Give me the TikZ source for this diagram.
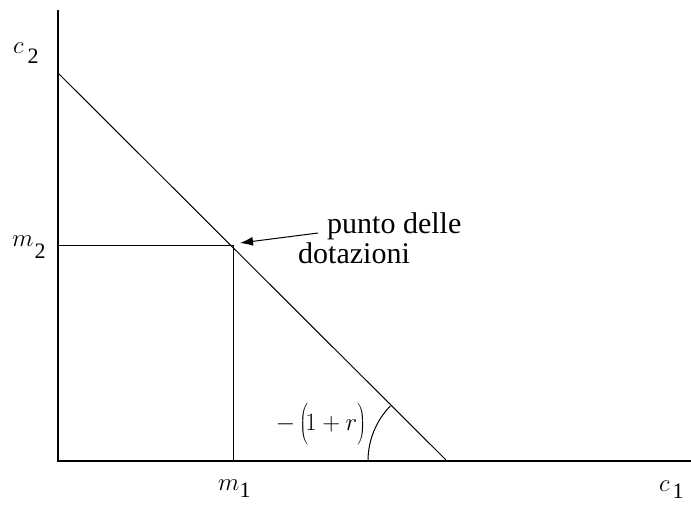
\documentclass[tikz,border=0pt]{standalone}
\usepackage{fontspec}
\setmainfont{Liberation Serif}
\usetikzlibrary{arrows.meta}
\newcommand{\lowdigit}[2]{\raisebox{-#1}{\fontsize{22}{22}\selectfont #2}}
\tikzset{
  axis/.style={line width=1.2pt},
  thin line/.style={line width=1pt},
  lbl/.style={font=\fontsize{24}{26}\selectfont, inner sep=0pt, anchor=base west},
  txt/.style={font=\fontsize{30}{31}\selectfont, inner sep=0pt, anchor=base west}
}
\begin{document}
\begin{tikzpicture}[x=1pt,y=-1pt]
\useasboundingbox (0,0) rectangle (691,506);
\coordinate (O) at (58,461);
\coordinate (Ytop) at (58,10);
\coordinate (Xend) at (691,461);
\coordinate (A) at (58,73);
\coordinate (B) at (447,461);
\coordinate (E) at (233,245);
\coordinate (M2) at (58,245);
\coordinate (M1) at (233,461);
\coordinate (ArcStart) at (368,461);
\draw[axis] (Ytop) -- (O) -- (Xend);
\draw[thin line] (A) -- (B);
\draw[thin line] (M2) -- (E) -- (M1);
\node[txt] (pd1) at (327,233) {punto delle};
\node[txt] (pd2) at (298,263) {dotazioni};
\coordinate (tail) at (318,233);
\draw[thin line, -{Latex[length=13pt,width=9pt]}] (tail) -- (240,243);
\draw[thin line] (ArcStart) arc[start angle=180, end angle=224, radius=79];
\node[lbl] (c2) at (13,53) {$c$\hspace{4pt}\lowdigit{10pt}{2}};
\node[lbl] (m2) at (12,246) {$m$\hspace{1pt}\lowdigit{12pt}{2}};
\node[lbl] (m1) at (218,490) {$m$\lowdigit{7pt}{1}};
\node[lbl] (c1) at (659,491) {$c$\hspace{3pt}\lowdigit{7pt}{1}};
\node[font=\fontsize{26}{28}\selectfont, inner sep=0pt] (slope) at (321,424) {$-\left(\rule[-14pt]{0pt}{40pt}\mkern-2mu 1+r\right)$};
\end{tikzpicture}
\end{document}
